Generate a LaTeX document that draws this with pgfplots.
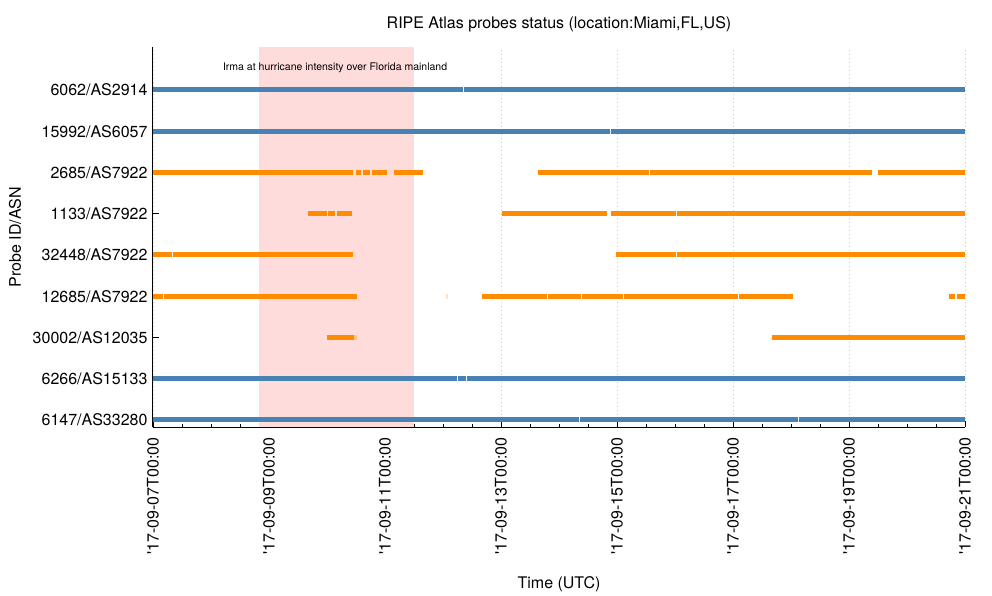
\documentclass[border=0pt]{standalone}
\usepackage{fontspec}
\setmainfont{TeX Gyre Heros}
\usepackage{pgfplots}
\pgfplotsset{compat=1.18}
\definecolor{probeblue}{RGB}{70,130,180}
\definecolor{probeorange}{RGB}{255,140,0}
\definecolor{irmaband}{RGB}{255,220,220}

\begin{document}
\begin{tikzpicture}[font=\fontsize{16}{19}\selectfont]
\useasboundingbox (-153pt,-168pt) rectangle (839pt,427pt);
\begin{axis}[
  scale only axis, width=812pt, height=380pt,
  xmin=0, xmax=14, ymin=-0.17, ymax=9.042,
  axis x line*=bottom, axis y line*=left,
  axis line style={line width=1pt},
  xtick={0,2,...,14}, minor x tick num=3,
  xticklabels={\textquotesingle17-09-07T00:00,\textquotesingle17-09-09T00:00,\textquotesingle17-09-11T00:00,\textquotesingle17-09-13T00:00,\textquotesingle17-09-15T00:00,\textquotesingle17-09-17T00:00,\textquotesingle17-09-19T00:00,\textquotesingle17-09-21T00:00},
  xticklabel style={rotate=90, anchor=east},
  xticklabel shift=7pt,
  ytick={0,...,8},
  yticklabels={6147/AS33280,6266/AS15133,30002/AS12035,12685/AS7922,32448/AS7922,1133/AS7922,2685/AS7922,15992/AS6057,6062/AS2914},
  yticklabel shift=2pt,
  major tick length=6pt, minor tick length=3pt,
  tick style={black, line width=0.8pt},
  xmajorgrids, major grid style={black!22, line width=0.8pt, dash pattern=on 1pt off 3pt},
  title={RIPE Atlas probes status (location:Miami,FL,US)},
  title style={at={(axis description cs:0.5,1)}, anchor=center, yshift=17pt},
  xlabel={Time (UTC)},
  xlabel style={at={(axis description cs:0.5,-0.413)}, anchor=center},
  ylabel={Probe ID/ASN},
  ylabel style={at={(axis description cs:-0.170,0.5)}, anchor=center},
  unbounded coords=jump,
  every axis plot/.append style={line width=5pt, line cap=butt},
]
% hurricane period
\addplot[draw=none, fill=irmaband] coordinates {(1.828,-0.17) (4.5,-0.17) (4.5,9.042) (1.828,9.042)} -- cycle;
\node[font=\fontsize{10.5}{12}\selectfont] at (axis cs:3.14,8.533) {Irma at hurricane intensity over Florida mainland};

% 6062/AS2914
\addplot[probeblue] coordinates {(0,8) (5.35,8) (5.355,nan) (5.368,8) (14,8)};
% 15992/AS6057
\addplot[probeblue] coordinates {(0,7) (7.885,7) (7.89,nan) (7.903,7) (14,7)};
% 2685/AS7922
\addplot[probeorange] coordinates {(0,6) (3.448,6) (3.46,nan) (3.50,6) (3.586,6) (3.6,nan) (3.62,6) (3.741,6) (3.75,nan) (3.776,6) (4.034,6) (4.1,nan) (4.155,6) (4.655,6) (5,nan) (6.638,6) (8.552,6) (8.56,nan) (8.569,6) (12.397,6) (12.45,nan) (12.5,6) (14,6)};
% 1133/AS7922
\addplot[probeorange] coordinates {(2.678,5) (2.995,5) (3,nan) (3.012,5) (3.138,5) (3.15,nan) (3.167,5) (3.436,5) (4,nan) (6.017,5) (7.828,5) (7.85,nan) (7.897,5) (9.017,5) (9.02,nan) (9.03,5) (14,5)};
% 32448/AS7922
\addplot[probeorange] coordinates {(0,4) (0.333,4) (0.34,nan) (0.35,4) (3.448,4) (4,nan) (7.99,4) (9.017,4) (9.02,nan) (9.03,4) (14,4)};
% 12685/AS7922
\addplot[probeorange] coordinates {(0,3) (0.167,3) (0.18,nan) (0.19,3) (3.52,3) (4,nan) (5.672,3) (6.795,3) (6.8,nan) (6.808,3) (7.383,3) (7.39,nan) (7.397,3) (8.105,3) (8.11,nan) (8.118,3) (10.088,3) (10.09,nan) (10.1,3) (11.034,3) (12,nan) (13.724,3) (13.828,3) (13.84,nan) (13.862,3) (14,3)};
\addplot[probeorange!25] coordinates {(5.06,3) (5.08,3)};
% 30002/AS12035
\addplot[probeorange] coordinates {(3.0,2) (3.466,2) (4,nan) (10.672,2) (14,2)};
\addplot[probeorange!50] coordinates {(3.466,2) (3.52,2)};
% 6266/AS15133
\addplot[probeblue] coordinates {(0,1) (5.248,1) (5.255,nan) (5.266,1) (5.388,1) (5.395,nan) (5.406,1) (14,1)};
% 6147/AS33280
\addplot[probeblue] coordinates {(0,0) (7.35,0) (7.36,nan) (7.368,0) (11.113,0) (11.12,nan) (11.131,0) (14,0)};
\end{axis}
\end{tikzpicture}
\end{document}
